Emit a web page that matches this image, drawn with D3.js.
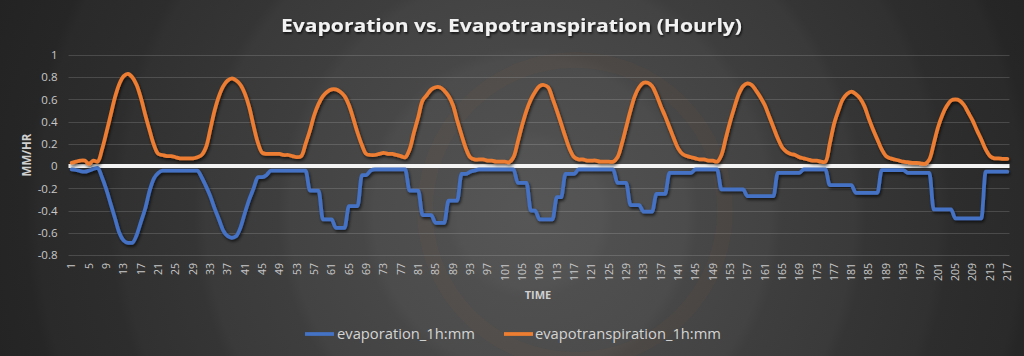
<!DOCTYPE html>
<html><head><meta charset="utf-8">
<script src="https://cdn.jsdelivr.net/npm/d3@7"></script>
<style>html,body{margin:0;padding:0;background:#2a2a2a;overflow:hidden}</style>
</head><body>
<svg id="c" width="1024" height="356"></svg>
<script>
// ---- data ----
const hours = d3.range(1, 218);               // categories 1..217
const xTickLabels = hours.filter((h, i) => i % 4 === 0);
const yTicks = [-0.8, -0.6, -0.4, -0.2, 0, 0.2, 0.4, 0.6, 0.8, 1];
const seriesNames = ["evaporation_1h:mm", "evapotranspiration_1h:mm"];

const evaporation = [
-0.03,-0.035,-0.045,-0.05,-0.04,-0.025,-0.015,-0.10,-0.21,-0.34,
-0.47,-0.60,-0.67,-0.69,-0.69,-0.62,-0.50,-0.38,-0.22,-0.11,
-0.06,-0.04,-0.04,-0.04,-0.04,-0.04,-0.04,-0.04,-0.04,-0.04,
-0.10,-0.18,-0.27,-0.38,-0.48,-0.58,-0.63,-0.645,-0.63,-0.55,
-0.42,-0.30,-0.20,-0.10,-0.10,-0.08,-0.04,-0.04,-0.04,-0.04,
-0.04,-0.04,-0.04,-0.04,-0.04,-0.22,-0.22,-0.22,-0.48,-0.48,
-0.48,-0.555,-0.555,-0.555,-0.36,-0.36,-0.36,-0.08,-0.08,-0.04,
-0.03,-0.03,-0.03,-0.03,-0.03,-0.03,-0.03,-0.03,-0.22,-0.22,
-0.22,-0.44,-0.44,-0.44,-0.51,-0.51,-0.51,-0.31,-0.31,-0.31,
-0.07,-0.07,-0.05,-0.04,-0.03,-0.03,-0.03,-0.03,-0.03,-0.03,
-0.03,-0.03,-0.03,-0.15,-0.15,-0.15,-0.40,-0.40,-0.48,-0.48,
-0.48,-0.48,-0.28,-0.28,-0.07,-0.07,-0.07,-0.03,-0.03,-0.03,
-0.03,-0.03,-0.03,-0.03,-0.03,-0.03,-0.15,-0.15,-0.15,-0.35,
-0.35,-0.35,-0.41,-0.41,-0.41,-0.25,-0.25,-0.25,-0.06,-0.06,
-0.06,-0.06,-0.06,-0.06,-0.03,-0.03,-0.03,-0.03,-0.03,-0.03,
-0.21,-0.21,-0.21,-0.21,-0.21,-0.21,-0.27,-0.27,-0.27,-0.27,
-0.27,-0.27,-0.27,-0.06,-0.06,-0.06,-0.06,-0.06,-0.06,-0.03,
-0.03,-0.03,-0.03,-0.03,-0.03,-0.17,-0.17,-0.17,-0.17,-0.17,
-0.17,-0.24,-0.24,-0.24,-0.24,-0.24,-0.24,-0.035,-0.035,-0.035,
-0.035,-0.035,-0.035,-0.06,-0.06,-0.06,-0.06,-0.06,-0.06,-0.39,
-0.39,-0.39,-0.39,-0.39,-0.47,-0.47,-0.47,-0.47,-0.47,-0.47,
-0.47,-0.05,-0.05,-0.05,-0.05,-0.05,-0.05
];

const evapotranspiration = [
0.03,0.04,0.05,0.05,0.02,0.05,0.04,0.15,0.30,0.46,
0.62,0.74,0.81,0.83,0.80,0.73,0.61,0.46,0.32,0.19,
0.11,0.10,0.09,0.09,0.08,0.07,0.07,0.07,0.07,0.08,
0.10,0.17,0.33,0.50,0.63,0.72,0.77,0.79,0.77,0.73,
0.65,0.53,0.36,0.21,0.12,0.11,0.11,0.11,0.11,0.10,
0.10,0.09,0.08,0.09,0.20,0.32,0.46,0.56,0.63,0.67,
0.69,0.69,0.67,0.63,0.55,0.43,0.30,0.19,0.11,0.10,
0.10,0.11,0.12,0.11,0.11,0.10,0.09,0.08,0.15,0.30,
0.44,0.59,0.64,0.69,0.71,0.71,0.68,0.63,0.55,0.41,
0.28,0.16,0.08,0.06,0.06,0.06,0.05,0.05,0.04,0.04,
0.04,0.035,0.08,0.22,0.37,0.50,0.60,0.67,0.72,0.73,
0.71,0.61,0.50,0.38,0.26,0.15,0.08,0.06,0.06,0.05,
0.05,0.05,0.04,0.04,0.04,0.04,0.08,0.20,0.35,0.50,
0.63,0.71,0.75,0.75,0.72,0.64,0.54,0.45,0.35,0.25,
0.16,0.11,0.09,0.08,0.07,0.06,0.06,0.05,0.05,0.04,
0.10,0.25,0.40,0.53,0.65,0.72,0.745,0.73,0.68,0.62,
0.55,0.45,0.35,0.25,0.17,0.13,0.11,0.10,0.08,0.07,
0.06,0.05,0.05,0.04,0.04,0.20,0.38,0.50,0.60,0.65,
0.67,0.65,0.61,0.54,0.43,0.33,0.24,0.15,0.09,0.07,
0.06,0.05,0.04,0.035,0.03,0.03,0.025,0.02,0.06,0.20,
0.35,0.46,0.54,0.59,0.60,0.59,0.55,0.48,0.41,0.32,
0.24,0.15,0.09,0.07,0.07,0.065,0.065
];

// ---- layout ----
const W = 1024, H = 356;
const plot = {left: 69.5, right: 1009.5, top: 55, bottom: 255};
const colors = ["#4472C4", "#ED7D31"];
const font = "'Open Sans', 'Liberation Sans', sans-serif";

const svg = d3.select("#c");
const defs = svg.append("defs");

// background radial gradient with soft rings
const rg = defs.append("radialGradient").attr("id", "bg")
  .attr("gradientUnits", "userSpaceOnUse")
  .attr("cx", 530).attr("cy", 215).attr("r", 600);
[[0, "#565656"], [0.12, "#535353"], [0.14, "#4f4f4f"], [0.26, "#4c4c4c"], [0.28, "#474747"],
 [0.40, "#434343"], [0.42, "#3e3e3e"], [0.54, "#3a3a3a"], [0.56, "#353535"], [0.68, "#313131"],
 [0.70, "#2d2d2d"], [0.82, "#2a2a2a"], [0.84, "#262626"], [1, "#222222"]]
  .forEach(([o, c]) => rg.append("stop").attr("offset", o).attr("stop-color", c));

const sh = defs.append("filter").attr("id", "shadow")
  .attr("x", "-5%").attr("y", "-20%").attr("width", "110%").attr("height", "140%");
sh.append("feDropShadow").attr("dx", 1.2).attr("dy", 2).attr("stdDeviation", 1.6)
  .attr("flood-color", "#000").attr("flood-opacity", 0.65);

const tsh = defs.append("filter").attr("id", "tshadow");
tsh.append("feDropShadow").attr("dx", 1).attr("dy", 1.5).attr("stdDeviation", 1)
  .attr("flood-color", "#000").attr("flood-opacity", 0.8);

svg.append("rect").attr("width", W).attr("height", H).attr("fill", "url(#bg)");
// faint warm ring in background
svg.append("circle").attr("cx", 575).attr("cy", 210).attr("r", 150)
  .attr("fill", "none").attr("stroke", "rgba(237,125,49,0.025)").attr("stroke-width", 16);

// ---- scales ----
const x = d3.scaleBand().domain(hours).range([plot.left, plot.right]);
const cx = h => x(h) + x.bandwidth() / 2;
const y = d3.scaleLinear().domain([-0.8, 1]).range([plot.bottom, plot.top]);

// gridlines
svg.append("g").selectAll("line").data(yTicks).join("line")
  .attr("x1", plot.left - 1).attr("x2", plot.right)
  .attr("y1", d => Math.round(y(d)) + 0.5).attr("y2", d => Math.round(y(d)) + 0.5)
  .attr("stroke", "rgba(255,255,255,0.15)").attr("stroke-width", 1);

// zero axis line (white)
svg.append("line").attr("x1", plot.left - 1).attr("x2", plot.right)
  .attr("y1", y(0)).attr("y2", y(0))
  .attr("stroke", "#f4f4f4").attr("stroke-width", 4);

// y axis
const yAxis = svg.append("g").attr("transform", `translate(${plot.left},0)`)
  .call(d3.axisLeft(y).tickValues(yTicks).tickSize(0).tickPadding(12)
    .tickFormat(d => String(+d.toFixed(1))));
yAxis.select(".domain").remove();
yAxis.selectAll("text").attr("fill", "#c8c8c8").style("font-family", font).style("font-size", "11.5px");

// x axis
const xAxis = svg.append("g").attr("transform", `translate(0,${plot.bottom})`)
  .call(d3.axisBottom(x).tickValues(xTickLabels).tickSize(0));
xAxis.select(".domain").remove();
xAxis.selectAll("text")
  .attr("transform", "rotate(-90)")
  .attr("text-anchor", "end")
  .attr("x", -8).attr("y", 0).attr("dy", "0.36em")
  .attr("fill", "#c8c8c8").style("font-family", font).style("font-size", "10.5px");

// series lines
const curves = [d3.curveMonotoneX, d3.curveCatmullRom.alpha(0.5)];
[evaporation, evapotranspiration].forEach((vals, k) => {
  const line = d3.line().x((d, i) => cx(hours[i])).y(d => y(d)).curve(curves[k]);
  svg.append("path").datum(vals)
    .attr("d", line)
    .attr("fill", "none").attr("stroke", colors[k]).attr("stroke-width", 3.75)
    .attr("stroke-linejoin", "round").attr("stroke-linecap", "round")
    .attr("filter", "url(#shadow)");
});

// title
svg.append("text").attr("x", 511.5).attr("y", 32).attr("text-anchor", "middle")
  .attr("fill", "#f2f2f2").attr("filter", "url(#tshadow)")
  .style("font-family", font).style("font-weight", "bold").style("font-size", "18px")
  .attr("textLength", 461).attr("lengthAdjust", "spacingAndGlyphs")
  .text("Evaporation vs. Evapotranspiration (Hourly)");

// axis titles
svg.append("text").attr("transform", `translate(31,155) rotate(-90)`)
  .attr("text-anchor", "middle").attr("fill", "#d0d0d0")
  .style("font-family", font).style("font-weight", "bold").style("font-size", "11.5px")
  .text("MM/HR");
svg.append("text").attr("x", 538).attr("y", 298.5).attr("text-anchor", "middle")
  .attr("fill", "#d0d0d0")
  .style("font-family", font).style("font-weight", "bold").style("font-size", "11px")
  .text("TIME");

// legend
const legend = [{x: 305, tx: 337, len: 138}, {x: 504, tx: 535, len: 186}];
legend.forEach((L, k) => {
  svg.append("line").attr("x1", L.x).attr("x2", L.x + 29).attr("y1", 334).attr("y2", 334)
    .attr("stroke", colors[k]).attr("stroke-width", 3.75);
  svg.append("text").attr("x", L.tx).attr("y", 338.5).attr("fill", "#d4d4d4")
    .style("font-family", font).style("font-size", "14px")
    .attr("textLength", L.len).attr("lengthAdjust", "spacingAndGlyphs")
    .text(seriesNames[k]);
});
</script>
</body></html>
